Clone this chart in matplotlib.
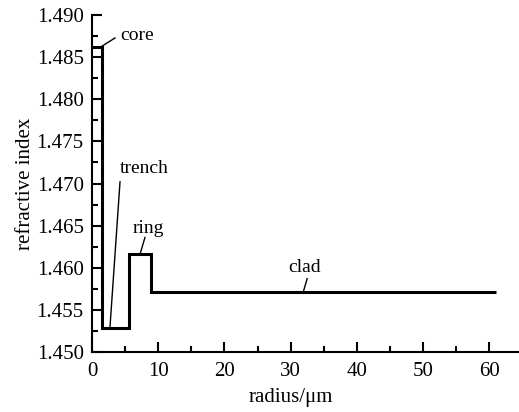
import matplotlib
matplotlib.use("Agg")
import matplotlib.pyplot as plt
from matplotlib.ticker import MultipleLocator, FormatStrFormatter

plt.rcParams['font.family'] = ['Liberation Serif', 'DejaVu Serif']

# Data: step profile (region boundaries in um, refractive index per region)
radius_edges = [0, 1.5, 5.65, 8.85, 61.0]
index_values = [1.4862, 1.4528, 1.4616, 1.4571]
region_names = ["core", "trench", "ring", "clad"]
# leader anchor points on the profile (data coords)
anchor_x = [1.5, 2.7, 7.25, 31.9]
anchor_y = [1.4863, 1.4528, 1.4616, 1.4571]
leader_x = [3.47, 4.23, 8.0, 32.5]
leader_y = [1.48727, 1.4702, 1.4636, 1.4587]
label_x = [4.2, 4.2, 6.1, 29.6]
label_y = [1.4876, 1.4718, 1.4647, 1.4600]

fig = plt.figure(figsize=(5.19, 4.12), dpi=100)
ax = fig.add_axes([0.1773, 0.1456, 0.8227, 0.818])

ax.stairs(index_values, radius_edges, baseline=None, color='black', linewidth=2.2)

for ax_, ay, lx, ly, tx, ty, name in zip(anchor_x, anchor_y, leader_x, leader_y,
                                          label_x, label_y, region_names):
    ax.plot([ax_, lx], [ay, ly], color='black', linewidth=1.0)
    ax.text(tx, ty, name, fontsize=14, ha='left', va='center')

ax.set_xlim(0, 64.5)
ax.set_ylim(1.450, 1.490)
ax.xaxis.set_major_locator(MultipleLocator(10))
ax.xaxis.set_minor_locator(MultipleLocator(5))
ax.yaxis.set_major_locator(MultipleLocator(0.005))
ax.yaxis.set_minor_locator(MultipleLocator(0.0025))
ax.yaxis.set_major_formatter(FormatStrFormatter('%.3f'))

for s in ['top', 'right']:
    ax.spines[s].set_visible(False)
for s in ['left', 'bottom']:
    ax.spines[s].set_linewidth(1.5)

ax.tick_params(which='major', direction='in', length=7, width=1.5, labelsize=15)
ax.tick_params(which='minor', direction='in', length=4, width=1.5)
ax.tick_params(axis='x', which='major', pad=7)
ax.tick_params(axis='y', which='major', pad=6)

ax.set_xlabel('radius/μm', fontsize=15)
ax.set_ylabel('refractive index', fontsize=15)
ax.xaxis.set_label_coords(30 / 64.5, -0.108)
ax.yaxis.set_label_coords(-0.133, 0.5)

fig.savefig('out.png', dpi=100)
